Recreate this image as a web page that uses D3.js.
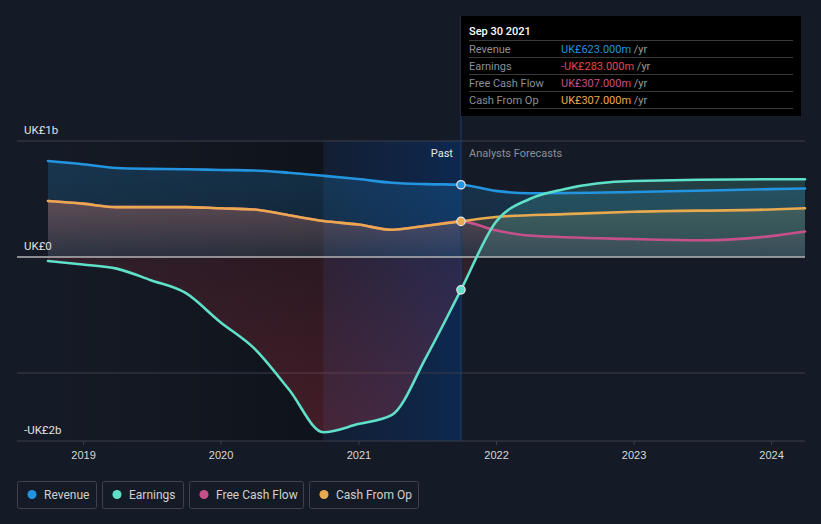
<!DOCTYPE html>
<html><head><meta charset="utf-8">
<script src="https://cdn.jsdelivr.net/npm/d3@7"></script>
<style>
html,body{margin:0;padding:0;background:#151b26;}
svg{display:block;font-family:Roboto,"Noto Sans",sans-serif;}
</style></head>
<body><svg id="c" width="821" height="524"></svg>
<script>
// ---- data ----
const revenue = [
  ["2018-09-30",0.828],["2018-12-31",0.80],["2019-03-31",0.767],["2019-06-30",0.76],
  ["2019-09-30",0.757],["2019-12-31",0.75],["2020-03-31",0.746],["2020-06-30",0.726],
  ["2020-09-30",0.70],["2020-12-31",0.672],["2021-03-31",0.64],["2021-06-30",0.628],
  ["2021-09-30",0.623],["2021-12-31",0.57],["2022-03-31",0.55],["2022-12-31",0.56],
  ["2023-12-31",0.585],["2024-03-31",0.59]
];
const earnings = [
  ["2018-09-30",-0.034],["2018-12-31",-0.065],["2019-03-31",-0.10],["2019-06-30",-0.20],
  ["2019-09-30",-0.31],["2019-12-31",-0.56],["2020-03-31",-0.79],["2020-06-30",-1.14],
  ["2020-09-30",-1.51],["2020-12-31",-1.44],["2021-03-31",-1.36],["2021-06-30",-0.86],
  ["2021-09-30",-0.283],["2021-12-31",0.30],["2022-03-31",0.50],["2022-06-30",0.585],
  ["2022-12-31",0.655],["2023-12-31",0.67],["2024-03-31",0.67]
];
const freeCashFlow = [
  ["2018-09-30",0.483],["2018-12-31",0.46],["2019-03-31",0.43],["2019-06-30",0.43],
  ["2019-09-30",0.43],["2019-12-31",0.42],["2020-03-31",0.41],["2020-06-30",0.36],
  ["2020-09-30",0.31],["2020-12-31",0.28],["2021-03-31",0.235],["2021-06-30",0.27],
  ["2021-09-30",0.307],["2021-12-31",0.23],["2022-03-31",0.185],["2022-12-31",0.155],
  ["2023-06-30",0.145],["2023-12-31",0.18],["2024-03-31",0.22]
];
const cashFromOp = [
  ["2018-09-30",0.483],["2018-12-31",0.46],["2019-03-31",0.43],["2019-06-30",0.43],
  ["2019-09-30",0.43],["2019-12-31",0.42],["2020-03-31",0.41],["2020-06-30",0.36],
  ["2020-09-30",0.31],["2020-12-31",0.28],["2021-03-31",0.235],["2021-06-30",0.27],
  ["2021-09-30",0.307],["2021-12-31",0.345],["2022-06-30",0.37],["2022-12-31",0.39],
  ["2023-12-31",0.41],["2024-03-31",0.42]
];
const yTickValues = [1, 0, -1.586];
const yTickLabels = ["UK£1b", "UK£0", "-UK£2b"];
const xTickYears = [2019, 2020, 2021, 2022, 2023, 2024];
const seriesNames = ["Revenue", "Earnings", "Free Cash Flow", "Cash From Op"];
const seriesColors = ["#2394df", "#5fe0c9", "#c6508a", "#e8a94f"];
const tooltipDate = "Sep 30 2021";
const tooltipValues = ["UK£623.000m", "-UK£283.000m", "UK£307.000m", "UK£307.000m"];
const tooltipValueColors = ["#2394df", "#e64545", "#c6508a", "#e8a94f"];
const pastStart = "2020-09-30", nowDate = "2021-09-30";

// ---- scales ----
const parse = d3.timeParse("%Y-%m-%d");
const W = 821, H = 524;
const x = d3.scaleTime().domain([parse("2018-09-30"), parse("2024-03-31")]).range([48, 805]);
const y = d3.scaleLinear().domain([-1.586, 1]).range([441, 141]);
const svg = d3.select("#c");
const defs = svg.append("defs");

const toPts = arr => arr.map(d => ({date: parse(d[0]), v: d[1]}));
const data = [revenue, earnings, freeCashFlow, cashFromOp].map(toPts);

// background regions
const gPast = defs.append("linearGradient").attr("id","gPast").attr("x1","0").attr("x2","1").attr("y1","0").attr("y2","0");
gPast.append("stop").attr("offset","0").attr("stop-color","#000").attr("stop-opacity",0.0);
gPast.append("stop").attr("offset","1").attr("stop-color","#000").attr("stop-opacity",0.3);
const gNow = defs.append("linearGradient").attr("id","gNow").attr("x1","0").attr("x2","1").attr("y1","0").attr("y2","0");
gNow.append("stop").attr("offset","0").attr("stop-color","#0c2a56").attr("stop-opacity",0.25);
gNow.append("stop").attr("offset","1").attr("stop-color","#0c2a56").attr("stop-opacity",0.85);

svg.append("rect").attr("x", x(parse("2018-09-30"))).attr("y",141).attr("width", x(parse(pastStart))-x(parse("2018-09-30")))
  .attr("height",300).attr("fill","url(#gPast)");
svg.append("rect").attr("x", x(parse(pastStart))).attr("y",141).attr("width", x(parse(nowDate))-x(parse(pastStart)))
  .attr("height",300).attr("fill","url(#gNow)");

// gridlines
[1,-1].forEach(v=>{
  svg.append("line").attr("x1",17).attr("x2",805).attr("y1",y(v)).attr("y2",y(v))
    .attr("stroke","#3a3f4a").attr("stroke-width",1);
});

// areas
const curve = d3.curveMonotoneX;
function vgrad(id, color, top, bottom){
  const g = defs.append("linearGradient").attr("id",id).attr("x1","0").attr("x2","0").attr("y1","0").attr("y2","1");
  g.append("stop").attr("offset","0").attr("stop-color",color).attr("stop-opacity",top);
  g.append("stop").attr("offset","1").attr("stop-color",color).attr("stop-opacity",bottom);
}
vgrad("aRev", seriesColors[0], 0.22, 0.12);
vgrad("aFcf", seriesColors[2], 0.22, 0.06);
vgrad("aCfo", seriesColors[3], 0.18, 0.05);
vgrad("aEarnPos", seriesColors[1], 0.18, 0.08);
vgrad("aEarnNeg", "#e03a4a", 0.08, 0.25);

const area = d3.area().x(d=>x(d.date)).y0(y(0)).y1(d=>y(d.v)).curve(curve);
defs.append("clipPath").attr("id","clipPos").append("rect").attr("x",0).attr("y",0).attr("width",W).attr("height",y(0));
defs.append("clipPath").attr("id","clipNeg").append("rect").attr("x",0).attr("y",y(0)).attr("width",W).attr("height",H-y(0));

svg.append("path").datum(data[0]).attr("d",area).attr("fill","url(#aRev)");
svg.append("path").datum(data[2]).attr("d",area).attr("fill","url(#aFcf)");
svg.append("path").datum(data[3]).attr("d",area).attr("fill","url(#aCfo)");
svg.append("path").datum(data[1]).attr("d",area).attr("fill","url(#aEarnPos)").attr("clip-path","url(#clipPos)");
svg.append("path").datum(data[1]).attr("d",area).attr("fill","url(#aEarnNeg)").attr("clip-path","url(#clipNeg)");

// now line
svg.append("line").attr("x1",x(parse(nowDate))).attr("x2",x(parse(nowDate))).attr("y1",16).attr("y2",441)
  .attr("stroke","#1d3f70").attr("stroke-width",1);

// zero line
svg.append("line").attr("x1",17).attr("x2",805).attr("y1",y(0)).attr("y2",y(0))
  .attr("stroke","#b4b4b4").attr("stroke-width",1.5);

// lines
const line = d3.line().x(d=>x(d.date)).y(d=>y(d.v)).curve(curve);
[2,3,0,1].forEach(i=>{
  svg.append("path").datum(data[i]).attr("d",line).attr("fill","none")
    .attr("stroke",seriesColors[i]).attr("stroke-width",2.6).attr("stroke-linecap","round");
});

// dots at now
const nd = parse(nowDate);
[[0,0.623],[3,0.307],[1,-0.283]].forEach(([i,v])=>{
  svg.append("circle").attr("cx",x(nd)).attr("cy",y(v)).attr("r",4.2)
    .attr("fill",seriesColors[i]).attr("stroke","#e8e8e8").attr("stroke-width",1.2);
});

// bottom axis
const xAxisG = svg.append("g").attr("transform","translate(0,441)");
xAxisG.append("line").attr("x1",17).attr("x2",805).attr("stroke","#3a3f4a").attr("stroke-width",1);
const xAxis = d3.axisBottom(x).tickValues(xTickYears.map(yv=>new Date(yv,0,1))).tickFormat(d3.timeFormat("%Y")).tickSize(4).tickPadding(6);
xAxisG.call(xAxis);
xAxisG.select(".domain").remove();
xAxisG.selectAll(".tick line").attr("stroke","#3a3f4a");
xAxisG.selectAll(".tick text").attr("fill","#d8d8d8").attr("font-size",11).attr("font-weight",500);

// y labels
yTickValues.forEach((v,i)=>{
  svg.append("text").attr("x",24).attr("y",y(v)-7).attr("fill","#e0e0e0").attr("font-size",11.5)
    .text(yTickLabels[i]);
});

// Past / Analysts Forecasts
svg.append("text").attr("x",x(nd)-8).attr("y",157).attr("text-anchor","end").attr("fill","#e8e8e8").attr("font-size",11).text("Past");
svg.append("text").attr("x",x(nd)+8).attr("y",157).attr("fill","#8a8f98").attr("font-size",11).text("Analysts Forecasts");

// tooltip
const tt = svg.append("g").attr("transform","translate(461,16)");
tt.append("rect").attr("width",340).attr("height",100).attr("fill","#000");
tt.append("text").attr("x",8).attr("y",19).attr("fill","#fff").attr("font-size",11).attr("font-weight",500).text(tooltipDate);
seriesNames.forEach((n,i)=>{
  const yy = 24 + i*17;
  tt.append("line").attr("x1",8).attr("x2",332).attr("y1",yy+0.5).attr("y2",yy+0.5).attr("stroke","#3a3a3a");
  tt.append("text").attr("x",8).attr("y",yy+12.5).attr("fill","#8a8f98").attr("font-size",11).text(n);
  const t = tt.append("text").attr("x",100).attr("y",yy+12.5).attr("font-size",11);
  t.append("tspan").attr("fill",tooltipValueColors[i]).text(tooltipValues[i]);
  t.append("tspan").attr("fill","#9a9a9a").text(" /yr");
});
tt.append("line").attr("x1",8).attr("x2",332).attr("y1",92.5).attr("y2",92.5).attr("stroke","#3a3a3a");

// legend
const legW = [80, 82, 115, 110];
let lx = 17;
seriesNames.forEach((n,i)=>{
  const g = svg.append("g").attr("transform",`translate(${lx},481)`);
  g.append("rect").attr("x",0.5).attr("y",0.5).attr("width",legW[i]-1).attr("height",27).attr("rx",2)
    .attr("fill","none").attr("stroke","#3d424c");
  g.append("circle").attr("cx",15).attr("cy",13.5).attr("r",4.5).attr("fill",seriesColors[i]);
  g.append("text").attr("x",27).attr("y",17.5).attr("fill","#d0d0d0").attr("font-size",12).text(n);
  lx += legW[i] + 5;
});
</script></body></html>
